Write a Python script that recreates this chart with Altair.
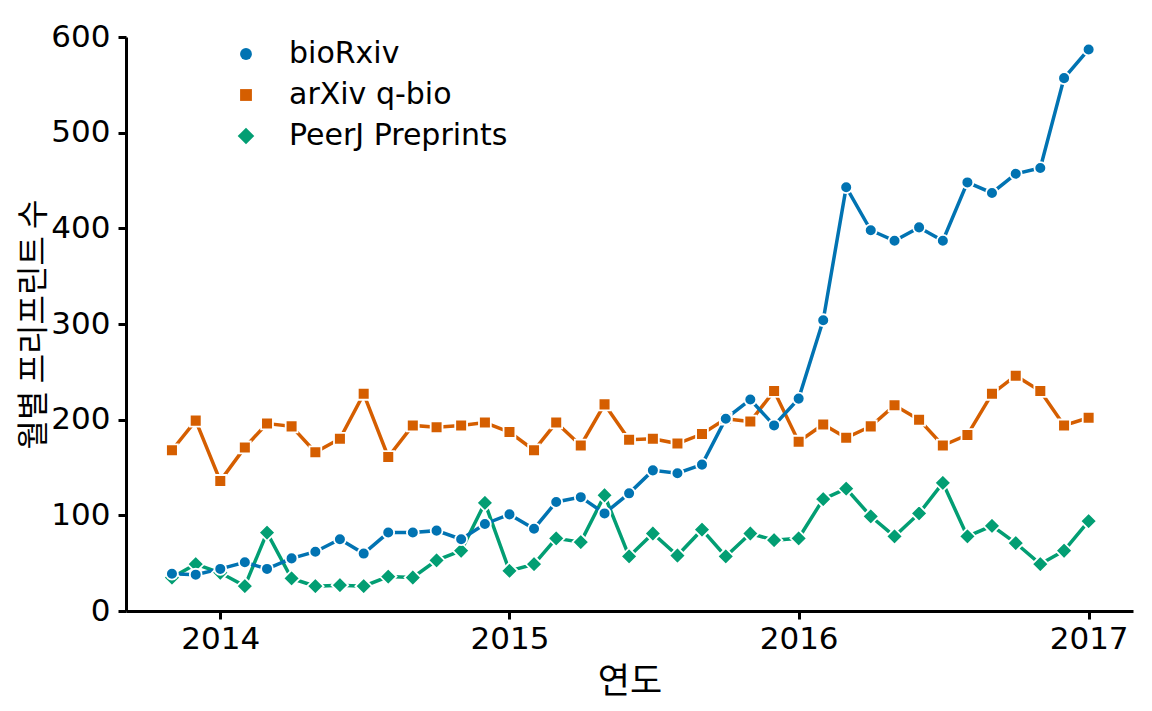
import altair as alt
import pandas as pd

months = pd.date_range("2013-11-01", "2017-01-01", freq="MS").strftime("%Y-%m-%d").tolist()

series_names = ["bioRxiv", "arXiv q-bio", "PeerJ Preprints"]
series_colors = ["#0173b2", "#d55e00", "#029e73"]
series_shapes = ["circle", "square", "M-1.4,0L0,-1.4L1.4,0L0,1.4Z"]

biorxiv = [39, 38,
           44, 51, 44, 55, 62, 75, 60, 82, 82, 84, 75, 91,
           101, 86, 114, 119, 102, 123, 147, 144, 153, 201, 221, 194,
           222, 304, 443, 398, 387, 401, 387, 448, 437, 457, 463, 557,
           587]
arxiv = [168, 199,
         136, 171, 196, 193, 166, 180, 227, 161, 194, 192, 194, 197,
         187, 168, 197, 173, 216, 179, 180, 175, 185, 201, 198, 230,
         177, 195, 181, 193, 215, 200, 173, 184, 227, 246, 230, 194,
         202]
peerj = [35, 49,
         40, 26, 82, 34, 26, 27, 26, 36, 35, 53, 63, 113,
         42, 49, 76, 72, 121, 57, 81, 58, 85, 57, 81, 74,
         76, 117, 128, 99, 78, 102, 134, 78, 89, 71, 49, 63,
         94]

year_ticks = [2014, 2015, 2016, 2017]
y_ticks = [0, 100, 200, 300, 400, 500, 600]

rows = []
# draw order: PeerJ first, bioRxiv on top
for name, vals in [(series_names[2], peerj), (series_names[1], arxiv), (series_names[0], biorxiv)]:
    for m, v in zip(months, vals):
        rows.append({"date": m, "count": v, "source": name})
df = pd.DataFrame(rows)

x = alt.X(
    "date:T",
    scale=alt.Scale(type="utc", domain=[alt.DateTime(year=2013, month=9, date=4, utc=True),
                                        alt.DateTime(year=2017, month=2, date=26, utc=True)], nice=False),
    axis=alt.Axis(values=[alt.DateTime(year=yy, month=1, date=1, utc=True) for yy in year_ticks],
                  format="%Y", labelPadding=5, titlePadding=10),
    title="연도",
)
y = alt.Y(
    "count:Q",
    scale=alt.Scale(domain=[0, 600], nice=False),
    axis=alt.Axis(values=y_ticks, labelPadding=8, titlePadding=0, titleFontSize=32),
    title="월별 프리프린트 수",
)
legend_kw = dict(title=None, orient="none", legendX=105, legendY=2,
                 labelFont="DejaVu Sans", labelFontSize=30, labelColor="black", labelLimit=0,
                 symbolSize=140, rowPadding=11, labelOffset=28, symbolStrokeWidth=0)
color = alt.Color(
    "source:N",
    scale=alt.Scale(domain=series_names, range=series_colors),
    legend=alt.Legend(**legend_kw),
)
shape = alt.Shape(
    "source:N",
    scale=alt.Scale(domain=series_names, range=series_shapes),
    legend=alt.Legend(**legend_kw),
)

lines = alt.Chart(df).mark_line(strokeWidth=3.5).encode(x=x, y=y, color=color, detail="source:N")
points = alt.Chart(df).mark_point(filled=True, size=140, stroke="white", strokeWidth=1.8, opacity=1).encode(
    x=x, y=y, color=color, shape=shape)

chart = alt.layer(lines, points).properties(
    width=1007, height=574,
    autosize=alt.AutoSizeParams(type="none"),
    padding={"left": 118, "top": 29, "right": 11, "bottom": 92},
).configure_view(stroke=None).configure_axis(
    grid=False,
    domainColor="black", domainWidth=3,
    tickColor="black", tickWidth=3, tickSize=8,
    labelFont="DejaVu Sans", labelFontSize=31, labelColor="black",
    titleFont="Noto Sans CJK KR", titleFontSize=35, titleFontWeight="normal", titleColor="black",
)

chart.save("out.html", embed_options={"renderer": "svg", "actions": False})
